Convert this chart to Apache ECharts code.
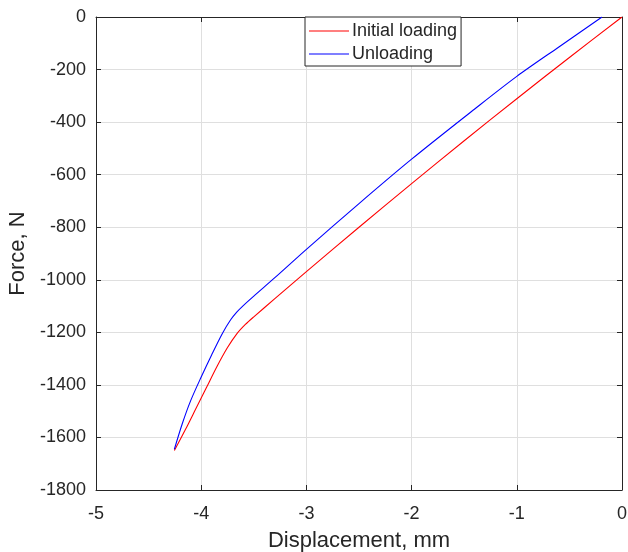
<!DOCTYPE html>
<html>
<head>
<meta charset="utf-8">
<script src="https://cdn.jsdelivr.net/npm/echarts@6/dist/echarts.min.js"></script>
<style>
html,body{margin:0;padding:0;background:#fff;}
#c{width:628px;height:552px;}
</style>
</head>
<body>
<div id="c"></div>
<script>
var seriesNames = ['Initial loading', 'Unloading'];
var xTicks = [-5, -4, -3, -2, -1, 0];
var yTicks = [-1800, -1600, -1400, -1200, -1000, -800, -600, -400, -200, 0];

// Initial loading: displacement (mm), force (N)
var loadX = [0, -0.5, -1, -1.5, -2, -2.5, -3, -3.3, -3.5, -3.58, -3.66, -3.75, -3.85, -3.95, -4.05, -4.15, -4.255];
var loadF = [0, -154, -311, -471, -634, -800, -969, -1072, -1141, -1170, -1205, -1258, -1330, -1410, -1490, -1570, -1650];

// Unloading
var unloadX = [-0.19, -0.6, -1, -1.4, -2, -2.5, -3, -3.3, -3.5, -3.6, -3.66, -3.72, -3.8, -3.9, -4.0, -4.1, -4.18, -4.255];
var unloadF = [0, -114, -226, -350, -541, -710, -884, -992, -1062, -1098, -1122, -1152, -1205, -1285, -1370, -1460, -1548, -1645];

function zip(a, b) { return a.map(function (v, i) { return [v, b[i]]; }); }

var txt = '#262626';
var fontFam = '"Liberation Sans", Arial, Helvetica, sans-serif';
var chart = echarts.init(document.getElementById('c'), null, {renderer: 'canvas'});

var axisCommon = {
  axisLine: {show: true, onZero: false, lineStyle: {color: txt, width: 1}},
  axisTick: {show: true, inside: true, length: 5, lineStyle: {color: txt}},
  splitLine: {show: false}
};

chart.setOption({
  animation: false,
  backgroundColor: '#fff',
  textStyle: {fontFamily: fontFam},
  grid: {left: 96, right: 6, top: 17, bottom: 62, containLabel: false, outerBoundsMode: 'none'},
  legend: {
    data: seriesNames,
    orient: 'vertical',
    left: 305, top: 17,
    icon: 'rect',
    itemWidth: 40, itemHeight: 1, itemGap: 5,
    padding: [5, 4, 3, 4],
    borderColor: txt, borderWidth: 1, backgroundColor: '#fff',
    textStyle: {color: txt, fontSize: 18, lineHeight: 18, fontFamily: fontFam, padding: [0, 0, 0, -2]}
  },
  xAxis: [
    Object.assign({}, axisCommon, {
      type: 'value', min: -5, max: 0, interval: 1, position: 'bottom',
      name: 'Displacement, mm', nameLocation: 'middle', nameGap: 40,
      nameTextStyle: {color: txt, fontSize: 22, fontFamily: fontFam},
      axisLabel: {color: txt, fontSize: 18, margin: 15, fontFamily: fontFam,
        formatter: function (v) { return xTicks.indexOf(v) >= 0 ? String(v) : ''; }},
      splitLine: {show: true, lineStyle: {color: '#dfdfdf', width: 1}}
    }),
    Object.assign({}, axisCommon, {
      type: 'value', min: -5, max: 0, interval: 1, position: 'top',
      axisLabel: {show: false}
    })
  ],
  yAxis: [
    Object.assign({}, axisCommon, {
      type: 'value', min: -1800, max: 0, interval: 200, position: 'left',
      name: 'Force, N', nameLocation: 'middle', nameGap: 64,
      nameTextStyle: {color: txt, fontSize: 22, fontFamily: fontFam},
      axisLabel: {color: txt, fontSize: 18, margin: 10, fontFamily: fontFam,
        formatter: function (v) { return yTicks.indexOf(v) >= 0 ? String(v) : ''; }},
      splitLine: {show: true, lineStyle: {color: '#dfdfdf', width: 1}}
    }),
    Object.assign({}, axisCommon, {
      type: 'value', min: -1800, max: 0, interval: 200, position: 'right',
      axisLabel: {show: false}
    })
  ],
  series: [
    {
      name: seriesNames[0], type: 'line', data: zip(loadX, loadF),
      symbol: 'none', smooth: 0.3,
      lineStyle: {color: '#ff0000', width: 1.1},
      itemStyle: {color: '#ff0000'}, z: 3
    },
    {
      name: seriesNames[1], type: 'line', data: zip(unloadX, unloadF),
      symbol: 'none', smooth: 0.3,
      lineStyle: {color: '#0000ff', width: 1.1},
      itemStyle: {color: '#0000ff'}, z: 3
    }
  ]
});
</script>
</body>
</html>
